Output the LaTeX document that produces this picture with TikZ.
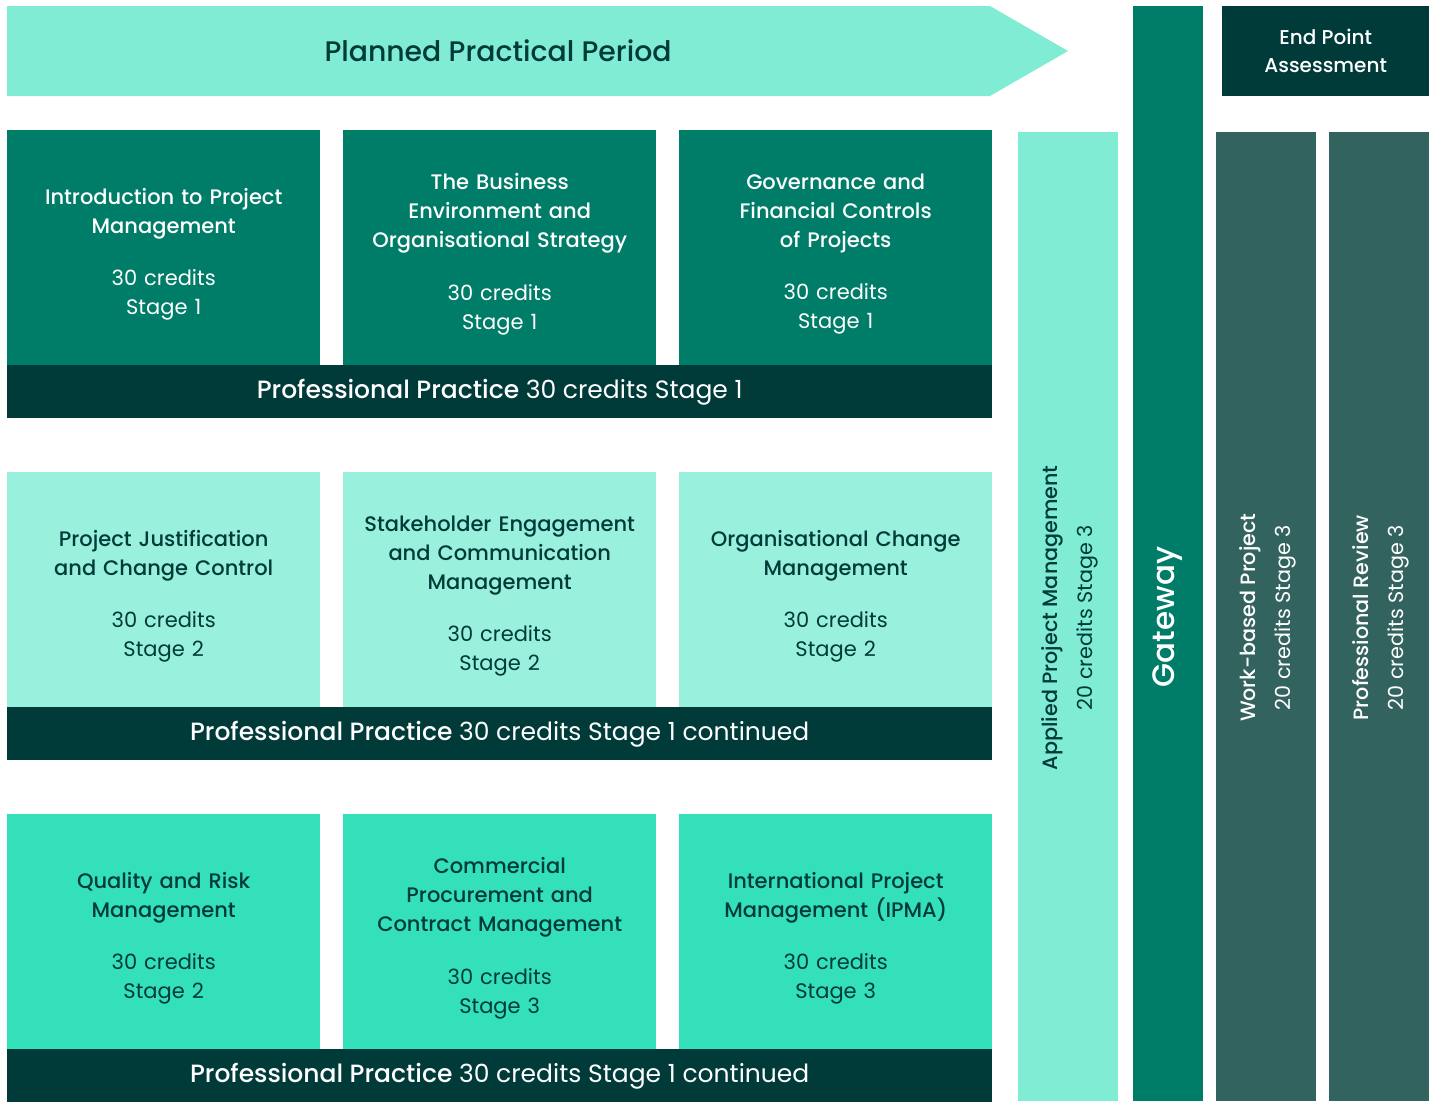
\documentclass[tikz,border=0pt]{standalone}
\usepackage{fontspec}
\usetikzlibrary{calc}
\setmainfont{Poppins}
\newfontfamily\pmed{Poppins Medium}
\definecolor{mintA}{HTML}{80ECD4}
\definecolor{mintB}{HTML}{99F0DC}
\definecolor{mintC}{HTML}{33E0BA}
\definecolor{tealA}{HTML}{007D68}
\definecolor{darkA}{HTML}{003B3A}
\definecolor{slateA}{HTML}{33635F}
\tikzset{
  modbox/.style={rectangle, inner sep=0pt, anchor=north west, minimum width=313pt, minimum height=235pt},
  modtext/.style={align=center, text width=305pt, inner sep=0pt, font=\fontsize{21}{29}\selectfont, yshift=-6.5pt},
  barbox/.style={rectangle, inner sep=0pt, anchor=north west, fill=darkA, text=white,
    minimum width=985pt, minimum height=53pt},
  bartext/.style={text=white, font=\fontsize{25}{30}\selectfont, yshift=-1pt},
  colbox/.style={rectangle, inner sep=0pt, anchor=north west, minimum height=969pt, minimum width=100pt},
  vtext/.style={rotate=90, align=center, font=\fontsize{20.7}{35}\selectfont},
}
\begin{document}
\begin{tikzpicture}[x=1pt,y=-1pt]
\useasboundingbox (0,0) rectangle (1434,1101);
% top arrow
\fill[mintA] (7,6) -- (990,6) -- (1068,51) -- (990,96) -- (7,96) -- cycle;
\node[text=darkA, font=\fontsize{28.3}{32}\selectfont\pmed] (ppp) at (498,51) {Planned Practical Period};
% End point assessment
\node[rectangle, inner sep=0pt, anchor=north west, fill=darkA, text=white, minimum width=207pt, minimum height=90pt,
  align=center, font=\fontsize{20}{28}\selectfont\pmed] (epa) at (1222,6) {End Point\\Assessment};
% Gateway
\fill[tealA] (1133,6) rectangle (1203,1101);
\node[rotate=90, text=white, font=\fontsize{31}{36}\selectfont\pmed] (gw) at (1168,617) {Gateway};
% columns
\node[colbox, fill=mintA] (apmcol) at (1018,132) {};
\node[vtext, text=darkA] (apm) at ($(apmcol.center)+(2,1)$) {\pmed Applied Project Management\\\rmfamily 20 credits Stage 3};
\node[colbox, fill=slateA] (wbpcol) at (1216,132) {};
\node[vtext, text=white] (wbp) at ($(wbpcol.center)+(2,1)$) {\pmed Work-based Project\\\rmfamily 20 credits Stage 3};
\node[colbox, fill=slateA] (prcol) at (1329,132) {};
\node[vtext, text=white] (pr) at ($(prcol.center)+(2,1)$) {\pmed Professional Review\\\rmfamily 20 credits Stage 3};
% Row 1
\node[modbox, fill=tealA] (m11) at (7,130) {};
\node[modtext, text=white] (t11) at (m11.center) {\pmed Introduction to Project\\Management\\[23.5pt]{\rmfamily 30 credits\\Stage 1}};
\node[modbox, fill=tealA] (m12) at (343,130) {};
\node[modtext, text=white] (t12) at (m12.center) {\pmed The Business\\Environment and\\Organisational Strategy\\[23.5pt]{\rmfamily 30 credits\\Stage 1}};
\node[modbox, fill=tealA] (m13) at (679,130) {};
\node[modtext, text=white] (t13) at (m13.center) {\pmed Governance and\\Financial Controls\\of Projects\\[23.5pt]{\rmfamily 30 credits\\Stage 1}};
\node[barbox] (b1) at (7,365) {};
\node[bartext] (bt1) at (b1.center) {{\pmed Professional Practice} 30 credits Stage 1};
% Row 2
\node[modbox, fill=mintB] (m21) at (7,472) {};
\node[modtext, text=darkA] (t21) at (m21.center) {\pmed Project Justification\\and Change Control\\[23.5pt]{\rmfamily 30 credits\\Stage 2}};
\node[modbox, fill=mintB] (m22) at (343,472) {};
\node[modtext, text=darkA] (t22) at (m22.center) {\pmed Stakeholder Engagement\\and Communication\\Management\\[23.5pt]{\rmfamily 30 credits\\Stage 2}};
\node[modbox, fill=mintB] (m23) at (679,472) {};
\node[modtext, text=darkA] (t23) at (m23.center) {\pmed Organisational Change\\Management\\[23.5pt]{\rmfamily 30 credits\\Stage 2}};
\node[barbox] (b2) at (7,707) {};
\node[bartext] (bt2) at (b2.center) {{\pmed Professional Practice} 30 credits Stage 1 continued};
% Row 3
\node[modbox, fill=mintC] (m31) at (7,814) {};
\node[modtext, text=darkA] (t31) at (m31.center) {\pmed Quality and Risk\\Management\\[23.5pt]{\rmfamily 30 credits\\Stage 2}};
\node[modbox, fill=mintC] (m32) at (343,814) {};
\node[modtext, text=darkA] (t32) at (m32.center) {\pmed Commercial\\Procurement and\\Contract Management\\[23.5pt]{\rmfamily 30 credits\\Stage 3}};
\node[modbox, fill=mintC] (m33) at (679,814) {};
\node[modtext, text=darkA] (t33) at (m33.center) {\pmed International Project\\Management (IPMA)\\[23.5pt]{\rmfamily 30 credits\\Stage 3}};
\node[barbox] (b3) at (7,1049) {};
\node[bartext] (bt3) at (b3.center) {{\pmed Professional Practice} 30 credits Stage 1 continued};
\end{tikzpicture}
\end{document}
